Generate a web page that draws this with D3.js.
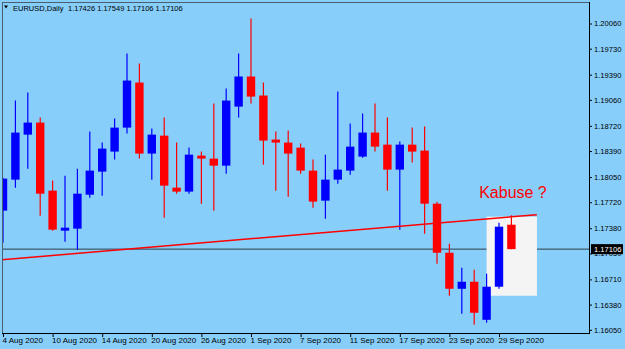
<!DOCTYPE html>
<html><head><meta charset="utf-8">
<script src="https://cdn.jsdelivr.net/npm/d3@7"></script>
<style>
html,body{margin:0;padding:0;background:#87cefa;overflow:hidden}
svg{display:block}
text{font-family:"Liberation Sans",Arial,sans-serif}
</style></head><body>
<svg id="c" width="625" height="349"></svg>
<script>
const dates = ["2020-08-04","2020-08-05","2020-08-06","2020-08-07","2020-08-10","2020-08-11","2020-08-12","2020-08-13","2020-08-14","2020-08-17","2020-08-18","2020-08-19","2020-08-20","2020-08-21","2020-08-24","2020-08-25","2020-08-26","2020-08-27","2020-08-28","2020-08-31","2020-09-01","2020-09-02","2020-09-03","2020-09-04","2020-09-07","2020-09-08","2020-09-09","2020-09-10","2020-09-11","2020-09-14","2020-09-15","2020-09-16","2020-09-17","2020-09-18","2020-09-21","2020-09-22","2020-09-23","2020-09-24","2020-09-25","2020-09-28","2020-09-29","2020-09-30"];
const open  = [1.17610,1.18016,1.18605,1.18763,1.17872,1.17348,1.17374,1.17819,1.18121,1.18383,1.18697,1.19287,1.18357,1.18592,1.17911,1.17859,1.18330,1.18291,1.18199,1.18972,1.19366,1.19117,1.18540,1.18501,1.18435,1.18134,1.17741,1.18016,1.18134,1.18317,1.18632,1.18474,1.18147,1.18474,1.18396,1.17701,1.17059,1.16587,1.16679,1.16181,1.16614,1.17426];
const high  = [1.18042,1.19051,1.19156,1.18828,1.18003,1.18068,1.18160,1.18645,1.18501,1.18815,1.19667,1.19536,1.18684,1.18828,1.18501,1.18435,1.18383,1.19012,1.19208,1.19667,1.20126,1.19287,1.18645,1.18658,1.18488,1.18278,1.18343,1.19169,1.18750,1.18881,1.19012,1.18828,1.18514,1.18697,1.18710,1.17728,1.17177,1.16863,1.16836,1.16784,1.17452,1.17549];
const low   = [1.17190,1.17911,1.18160,1.17544,1.17348,1.17203,1.17099,1.17780,1.17806,1.18278,1.18619,1.18291,1.18016,1.17518,1.17832,1.17832,1.17701,1.17610,1.18094,1.18828,1.19012,1.18212,1.17872,1.17793,1.18094,1.17649,1.17505,1.17963,1.18081,1.18304,1.18383,1.17872,1.17361,1.18239,1.17308,1.16915,1.16496,1.16260,1.16116,1.16142,1.16587,1.17106];
const close = [1.18029,1.18632,1.18763,1.17832,1.17361,1.17387,1.17832,1.18134,1.18422,1.18697,1.19313,1.18357,1.18605,1.17937,1.17859,1.18343,1.18291,1.18199,1.19051,1.19366,1.19103,1.18527,1.18501,1.18357,1.18134,1.17728,1.18016,1.18147,1.18448,1.18632,1.18448,1.18147,1.18474,1.18383,1.17701,1.17059,1.16587,1.16679,1.16273,1.16614,1.17400,1.17106];
const priceTicks = [1.20060,1.19730,1.19390,1.19060,1.18720,1.18390,1.18050,1.17720,1.17380,1.17050,1.16710,1.16380,1.16050];
const dateTickValues = ["2020-08-04","2020-08-10","2020-08-14","2020-08-20","2020-08-26","2020-09-01","2020-09-07","2020-09-11","2020-09-17","2020-09-23","2020-09-29"];
const dateTickLabels = ["4 Aug 2020","10 Aug 2020","14 Aug 2020","20 Aug 2020","26 Aug 2020","1 Sep 2020","7 Sep 2020","11 Sep 2020","17 Sep 2020","23 Sep 2020","29 Sep 2020"];
const bidPrice = 1.17106;
const trendIdx = [-0.1, 43.05];
const trendPrice = [1.16967, 1.17557];
const boxIdx = [39.0, 43.06];
const boxPrice = [1.16496, 1.17531];
const noteText = "Kabuse ?";
const noteIdx = 38.4;
const notePrice = 1.17780;
const titleSymbol = "EURUSD,Daily";
const titleValues = "1.17426 1.17549 1.17106 1.17106";

const W = 625, H = 349, L = 2, R = 589, T = 2, B = 333;
const svg = d3.select("#c");
svg.append("rect").attr("width", W).attr("height", H).attr("fill", "#87cefa");

const x = d3.scalePoint().domain(dates).range([3, 511.4]);
const xi = d3.scaleLinear().domain([0, dates.length - 1]).range([3, 511.4]);
const y = d3.scaleLinear().domain([1.16050, 1.20060]).range([329.8, 23.5]);

svg.append("defs").append("clipPath").attr("id", "clip")
  .append("rect").attr("x", L).attr("y", T).attr("width", R - L).attr("height", B - T);

const g = svg.append("g").attr("clip-path", "url(#clip)");

// bid line
g.append("line").attr("x1", L).attr("x2", R)
  .attr("y1", y(bidPrice)).attr("y2", y(bidPrice))
  .attr("stroke", "#2f3f48").attr("stroke-width", 1);

// rectangle object
g.append("rect")
  .attr("x", xi(boxIdx[0])).attr("width", xi(boxIdx[1]) - xi(boxIdx[0]))
  .attr("y", y(boxPrice[1])).attr("height", y(boxPrice[0]) - y(boxPrice[1]))
  .attr("fill", "#f4f4f4");

const data = dates.map((d, i) => ({d, o: open[i], h: high[i], l: low[i], c: close[i]}));
const col = d => d.c >= d.o ? "#0000ff" : "#ff0000";

g.selectAll(".wick").data(data).join("line").attr("class", "wick")
  .attr("x1", d => x(d.d)).attr("x2", d => x(d.d))
  .attr("y1", d => y(d.h)).attr("y2", d => y(d.l))
  .attr("stroke", col).attr("stroke-width", 1.2);

g.selectAll(".body").data(data).join("rect").attr("class", "body")
  .attr("x", d => x(d.d) - 4.2).attr("width", 8.4)
  .attr("y", d => y(Math.max(d.o, d.c)))
  .attr("height", d => Math.max(1.5, Math.abs(y(d.o) - y(d.c))))
  .attr("fill", col);

// trendline
g.append("line")
  .attr("x1", xi(trendIdx[0])).attr("y1", y(trendPrice[0]))
  .attr("x2", xi(trendIdx[1])).attr("y2", y(trendPrice[1]))
  .attr("stroke", "#ff0000").attr("stroke-width", 1.5);

// note
g.append("text").attr("x", xi(noteIdx)).attr("y", y(notePrice))
  .attr("fill", "#ff0000").attr("font-size", "16px").text(noteText);

// frame
svg.append("line").attr("x1", L).attr("x2", R).attr("y1", T + 0.5).attr("y2", T + 0.5).attr("stroke", "#4a6070");
svg.append("line").attr("x1", L + 0.5).attr("x2", L + 0.5).attr("y1", T).attr("y2", B).attr("stroke", "#4a6070");
svg.append("line").attr("x1", R + 0.5).attr("x2", R + 0.5).attr("y1", T).attr("y2", B + 0.5).attr("stroke", "#000");
svg.append("line").attr("x1", L).attr("x2", R + 1).attr("y1", B + 0.5).attr("y2", B + 0.5).attr("stroke", "#000");

// bottom axis
const xa = svg.append("g").attr("transform", `translate(0,${B})`)
  .call(d3.axisBottom(x).tickValues(dateTickValues)
    .tickFormat((d, i) => dateTickLabels[dateTickValues.indexOf(d)])
    .tickSize(4).tickSizeOuter(0));
xa.select(".domain").remove();
xa.selectAll("line").attr("stroke", "#000");
xa.selectAll("text").attr("text-anchor", "start").attr("dx", -1).attr("y", 4.3)
  .attr("fill", "#000").attr("font-size", "8px").attr("font-family", '"Liberation Sans",Arial,sans-serif');

// right axis
const ya = svg.append("g").attr("transform", `translate(${R},0)`)
  .call(d3.axisRight(y).tickValues(priceTicks).tickFormat(d3.format(".5f")).tickSize(3).tickSizeOuter(0));
ya.select(".domain").remove();
ya.selectAll("line").attr("stroke", "#000");
ya.selectAll("text").attr("x", 5).attr("fill", "#000").attr("font-size", "7.6px")
  .attr("font-family", '"Liberation Sans",Arial,sans-serif');

// bid price label
const by = y(bidPrice);
svg.append("rect").attr("x", R + 2).attr("y", by - 5).attr("width", 32).attr("height", 10).attr("fill", "#000");
svg.append("text").attr("x", R + 5).attr("y", by + 2.8).attr("fill", "#fff")
  .attr("font-size", "7.6px").text(bidPrice.toFixed(5));

// title
svg.append("path").attr("d", "M4,5.5L8,5.5L6,8.5Z").attr("fill", "#000");
svg.append("text").attr("x", 13).attr("y", 10.7).attr("font-size", "7.5px").attr("fill", "#000").text(titleSymbol);
svg.append("text").attr("x", 68).attr("y", 10.7).attr("font-size", "7.5px").attr("fill", "#000").text(titleValues);
</script>
</body></html>
